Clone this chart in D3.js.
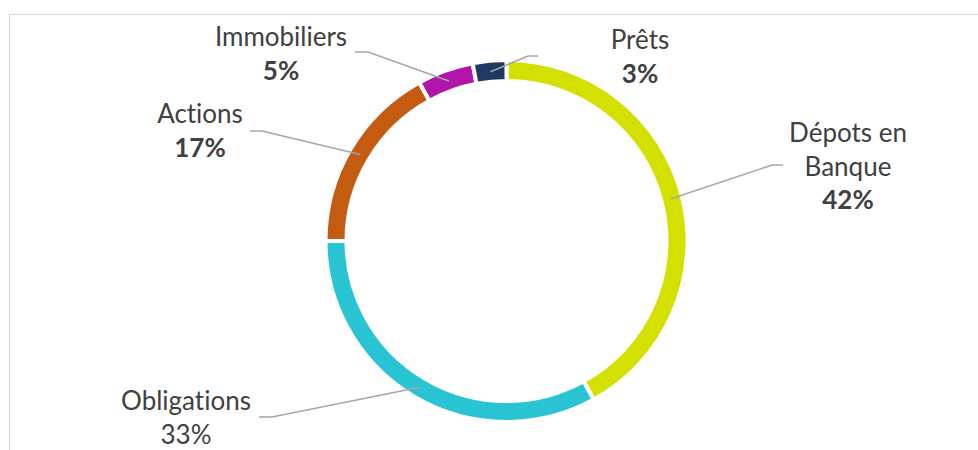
<!DOCTYPE html>
<html>
<head>
<meta charset="utf-8">
<script src="https://cdn.jsdelivr.net/npm/d3@7"></script>
<style>
  html, body { margin: 0; padding: 0; background: #fff; }
  svg { display: block; }
  .lbl { font-family: Lato, "Open Sans", sans-serif; font-size: 26px; fill: #404040; font-variant-ligatures: none; }
</style>
</head>
<body>
<script>
const width = 978,
      height = 450;

// data
const categories = ["Dépots en Banque", "Obligations", "Actions", "Immobiliers", "Prêts"];
const shares = [42, 33, 17, 5, 3];
const labelLines = [["Dépots en", "Banque"], ["Obligations"], ["Actions"], ["Immobiliers"], ["Prêts"]];
const boldPct = [true, false, true, true, true];

const colors = ["#d4e000", "#29c4d4", "#c55a11", "#b014a9", "#1f3864"];

// where each label sits: text center, first baseline, leader start and elbow
const labelLayout = [
    {x: 848, y: 142, lx: 783, ly: 165, ex: 772},
    {x: 186, y: 410, lx: 259, ly: 417, ex: 272},
    {x: 200, y: 123, lx: 250, ly: 131, ex: 262},
    {x: 281, y: 46,  lx: 355, ly: 52,  ex: 368},
    {x: 640, y: 49,  lx: 538, ly: 56,  ex: 528}
];
const lineGap = 33.5;

const cx = 506.5, cy = 241;
const outerR = 181, innerR = 160;

const svg = d3.select("body").append("svg")
    .attr("width", width)
    .attr("height", height);

// chart area frame (right and bottom edges fall outside the picture)
svg.append("rect")
    .attr("x", 9.5).attr("y", 14.5)
    .attr("width", 1000).attr("height", 500)
    .attr("fill", "none")
    .attr("stroke", "#d9d9d9")
    .attr("stroke-width", 1);

const pie = d3.pie().sort(null).value(d => d)
    .startAngle(0).endAngle(2 * Math.PI);
const arcs = pie(shares);

const arc = d3.arc().innerRadius(innerR).outerRadius(outerR);
const midArc = d3.arc().innerRadius(170).outerRadius(170);

const g = svg.append("g").attr("transform", `translate(${cx},${cy})`);

g.selectAll(".slice")
    .data(arcs)
    .enter().append("path")
    .attr("class", "slice")
    .attr("d", arc)
    .attr("fill", (d, i) => colors[i])
    .attr("stroke", "#fff")
    .attr("stroke-width", 4);

// leader lines: label -> elbow -> middle of the ring
svg.selectAll(".leader")
    .data(arcs)
    .enter().append("polyline")
    .attr("class", "leader")
    .attr("points", (d, i) => {
        const L = labelLayout[i];
        const c = midArc.centroid(d);
        return [[L.lx, L.ly], [L.ex, L.ly], [c[0] + cx, c[1] + cy]].join(" ");
    })
    .attr("fill", "none")
    .attr("stroke", "#a6a6a6")
    .attr("stroke-width", 1.5);

const labels = svg.selectAll(".lbl")
    .data(arcs)
    .enter().append("text")
    .attr("class", "lbl")
    .attr("text-anchor", "middle");

labels.each(function(d, i) {
    const t = d3.select(this);
    const L = labelLayout[i];
    labelLines[i].forEach((line, k) => {
        t.append("tspan").attr("x", L.x).attr("y", L.y + k * lineGap).text(line);
    });
    t.append("tspan")
        .attr("x", L.x)
        .attr("y", L.y + labelLines[i].length * lineGap)
        .attr("font-weight", boldPct[i] ? "bold" : "normal")
        .text(Math.round(d.data) + "%");
});
</script>
</body>
</html>
